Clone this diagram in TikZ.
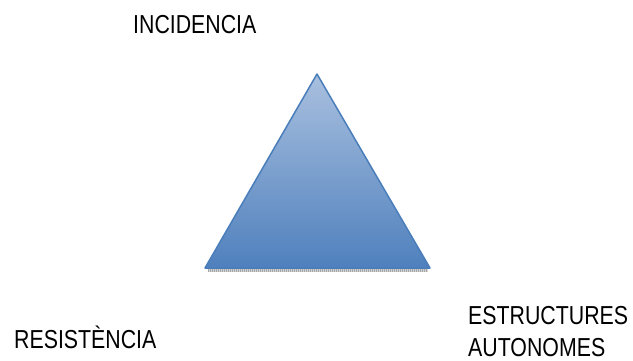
\documentclass[tikz,border=0pt]{standalone}
\usepackage{fontspec}
\setmainfont{Liberation Sans}
\newfontfamily\narrowfont[FakeStretch=0.82]{Liberation Sans}
\usepackage{tikz}
\definecolor{pyrtop}{RGB}{169,192,223}
\definecolor{pyrbot}{RGB}{79,128,189}
\definecolor{pyredge}{RGB}{74,126,187}
\tikzset{
  corner/.style={anchor=base west,inner sep=0pt,font=\narrowfont\fontsize{26}{31.5}\selectfont},
  pyramid/.style={draw=pyredge,line width=1.5pt,line join=round,top color=pyrtop,bottom color=pyrbot}
}
\begin{document}
\begin{tikzpicture}[x=1pt,y=-1pt]
\useasboundingbox (0,0) rectangle (633,360);
\coordinate (apex)  at (317,74);
\coordinate (left)  at (205,268);
\coordinate (right) at (430,268);
% soft shadow under the base
\draw[gray!35,line width=2.5pt] (208,270.5) -- (428,270.5);
\draw[gray!70,line width=2.5pt,dash pattern=on 1pt off 1pt] (208,270.5) -- (428,270.5);
\draw[pyramid] (apex) -- (right) -- (left) -- cycle;
\node[corner] (incid) at (133,33)  {INCIDENCIA};
\node[corner] (resis) at (14,348)  {RESISTÈNCIA};
% base anchor of a two-line node sits on its last line
\node[corner,align=left] (estru) at (468,356) {ESTRUCTURES\\AUTONOMES};
\end{tikzpicture}
\end{document}
